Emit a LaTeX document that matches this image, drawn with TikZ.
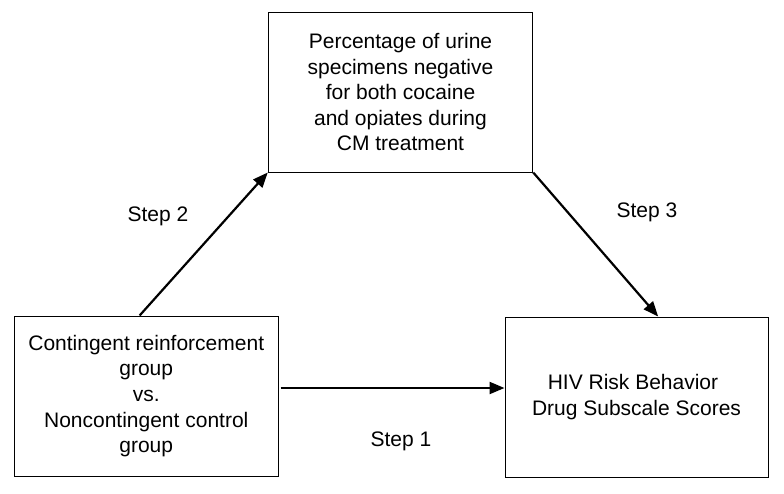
\documentclass[tikz,border=0pt]{standalone}
\usepackage{fontspec}
\setmainfont{Liberation Sans}
\usetikzlibrary{arrows.meta,calc}
\begin{document}
\begin{tikzpicture}[x=1pt,y=-1pt,
  box/.style={draw=black,line width=1pt,inner sep=0pt,align=center,
    font=\fontsize{21}{25.6}\selectfont},
  arr/.style={line width=2.2pt,-{Triangle[length=15pt,width=12pt]}},
  steplbl/.style={anchor=base,inner sep=0pt,font=\fontsize{21}{25.6}\selectfont}]
\useasboundingbox[fill=white] (0,0) rectangle (784,493);
\node[box,minimum width=264.5pt,minimum height=159.5pt] (T) at (400.5,92.25)
  {Percentage of urine\\specimens negative\\for both cocaine\\and opiates during\\CM treatment};
\node[box,minimum width=263.5pt,minimum height=160pt] (L) at (146.25,396)
  {Contingent reinforcement\\group\\vs.\\Noncontingent control\\group};
\node[box,minimum width=263pt,minimum height=160pt] (R) at (636.5,397)
  {HIV Risk Behavior\hspace*{7pt}\\Drug Subscale Scores};
\coordinate (h) at (0,388);
\coordinate (s2) at ($(L.north west)!0.475!(L.north east)$);
\coordinate (e3) at ($(R.north west)!0.582!(R.north east)$);
\draw[arr] (s2) -- (T.south west);
\draw[arr] (T.south east) -- (e3);
\draw[arr,shorten <=2pt] (L.east |- h) -- (R.west |- h);
\node[steplbl] (l2) at (158,221.7) {Step 2};
\node[steplbl] (l3) at (647,217) {Step 3};
\node[steplbl] (l1) at (401,446) {Step 1};
\end{tikzpicture}
\end{document}
